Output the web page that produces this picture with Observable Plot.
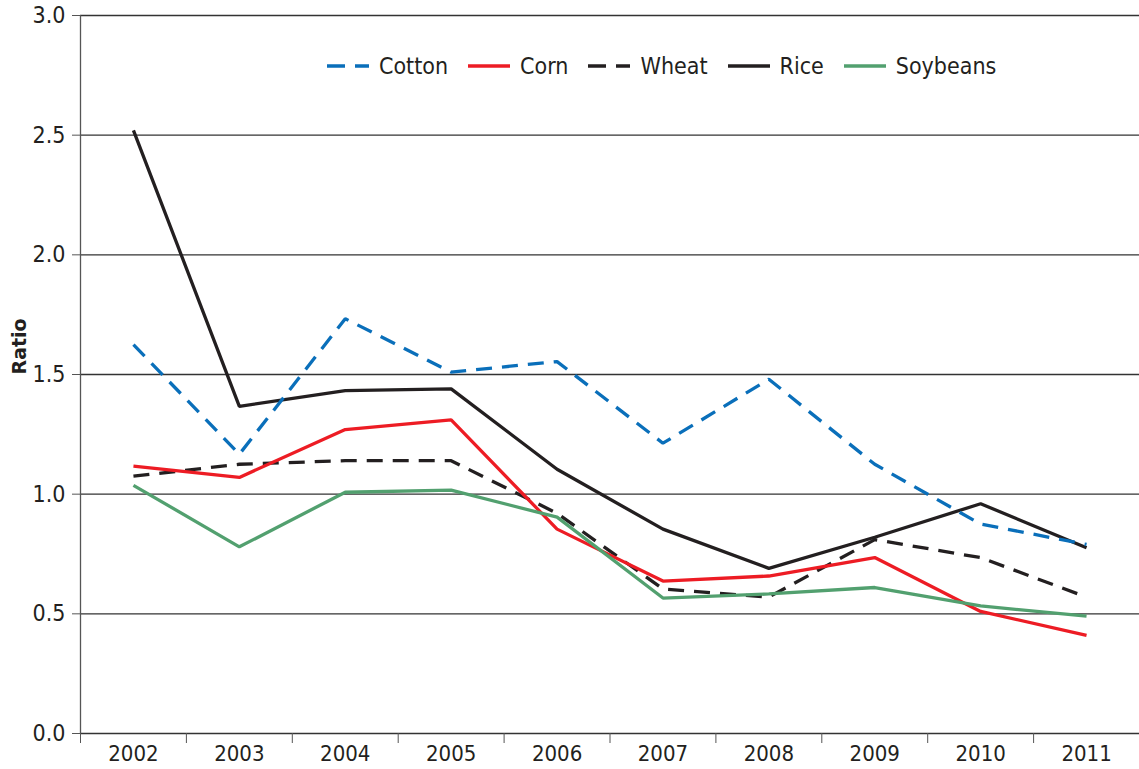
<!DOCTYPE html>
<html><head><meta charset="utf-8">
<script src="https://cdn.jsdelivr.net/npm/d3@7"></script>
<script src="https://cdn.jsdelivr.net/npm/@observablehq/plot@0.6"></script>
<style>
body{margin:0;background:#fff;}
#wrap{position:relative;width:1139px;height:769px;font-family:"DejaVu Sans Condensed","DejaVu Sans",sans-serif;color:#231f20;}
#legend{position:absolute;left:327px;top:52px;display:flex;align-items:center;font-size:23px;line-height:28px;}
.item{display:flex;align-items:center;margin-right:20px;}
.item svg{margin-right:10px;}
</style>
</head><body>
<div id="wrap"><div id="legend"></div></div>
<script>
const years = [2002, 2003, 2004, 2005, 2006, 2007, 2008, 2009, 2010, 2011];
const cotton   = [1.625, 1.167, 1.733, 1.51, 1.554, 1.213, 1.48, 1.125, 0.875, 0.79];
const corn     = [1.117, 1.07, 1.27, 1.31, 0.854, 0.637, 0.658, 0.735, 0.51, 0.41];
const wheat    = [1.075, 1.125, 1.14, 1.14, 0.92, 0.604, 0.57, 0.81, 0.735, 0.57];
const rice     = [2.52, 1.367, 1.433, 1.44, 1.104, 0.854, 0.69, 0.82, 0.96, 0.776];
const soybeans = [1.037, 0.78, 1.008, 1.017, 0.904, 0.566, 0.583, 0.61, 0.533, 0.49];
const yTicks = [0, 0.5, 1, 1.5, 2, 2.5, 3];
const legendOrder = ["Cotton", "Corn", "Wheat", "Rice", "Soybeans"];

const seriesValues = {Cotton: cotton, Corn: corn, Wheat: wheat, Rice: rice, Soybeans: soybeans};
const styles = {
  Cotton:   {stroke: "#0a6fba", dash: "16,10"},
  Corn:     {stroke: "#ed1c24", dash: null},
  Wheat:    {stroke: "#231f20", dash: "16,10"},
  Rice:     {stroke: "#231f20", dash: null},
  Soybeans: {stroke: "#52a06f", dash: null}
};
const drawOrder = ["Rice", "Wheat", "Corn", "Cotton", "Soybeans"];
const boundaries = years.map(y => y - 0.5);

const lineMarks = drawOrder.map(name => {
  const rows = seriesValues[name].map((v, i) => ({year: years[i], value: v}));
  return Plot.line(rows, {
    x: "year", y: "value", stroke: styles[name].stroke, strokeWidth: 3.3,
    strokeDasharray: styles[name].dash || undefined, strokeLinejoin: "miter", strokeLinecap: "butt"
  });
});

const chart = Plot.plot({
  width: 1139, height: 769,
  marginLeft: 80, marginRight: 0, marginTop: 15, marginBottom: 36,
  style: {fontFamily: '"DejaVu Sans Condensed","DejaVu Sans",sans-serif', fontSize: "23px", color: "#231f20", background: "#fff"},
  x: {domain: [2001.5, 2011.5]},
  y: {domain: [0, 3]},
  marks: [
    Plot.ruleY(yTicks, {stroke: "#333", strokeWidth: 1.3}),
    Plot.ruleX([2001.5], {stroke: "#555", strokeWidth: 1.3}),
    Plot.axisY({ticks: yTicks, tickFormat: d3.format(".1f"), tickSize: 8, tickPadding: 7, label: null, fontSize: 23, stroke: "#555"}),
    Plot.axisX({ticks: years, tickFormat: d => String(d), tickSize: 0, tickPadding: 12, label: null, fontSize: 22}),
    Plot.axisX({ticks: boundaries, tickFormat: () => "", tickSize: 10, label: null, stroke: "#555"}),
    ...lineMarks,
    Plot.text(["Ratio"], {frameAnchor: "left", dx: -61, rotate: -90, fontWeight: "bold", fontSize: 19, fontFamily: '"DejaVu Sans",sans-serif', fill: "#231f20"})
  ]
});
document.getElementById("wrap").prepend(chart);

const legend = document.getElementById("legend");
legendOrder.forEach(name => {
  const s = styles[name];
  const item = document.createElement("div");
  item.className = "item";
  const dash = s.dash ? 'stroke-dasharray="18,10"' : "";
  item.innerHTML = `<svg width="42" height="6"><line x1="0" y1="3" x2="42" y2="3" stroke="${s.stroke}" stroke-width="3.5" ${dash}/></svg><span>${name}</span>`;
  legend.appendChild(item);
});
</script>
</body></html>
